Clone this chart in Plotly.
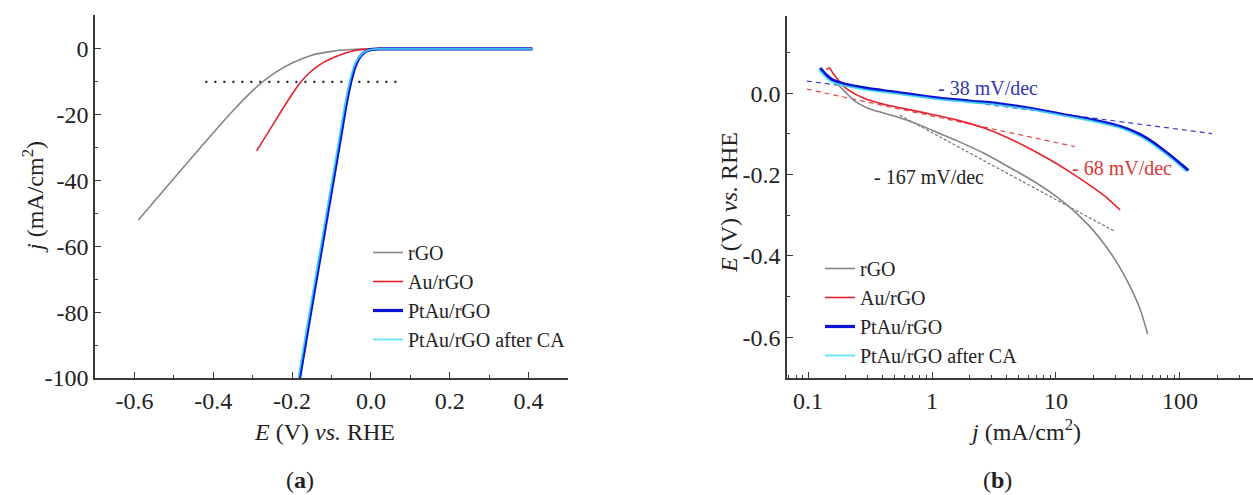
import plotly.graph_objects as go

# ---------------- Panel (a): polarization curves ----------------
rgo_E = [-0.59, -0.55, -0.50, -0.45, -0.40, -0.35, -0.30, -0.27, -0.24, -0.20, -0.15, -0.10, -0.05, 0.0, 0.1, 0.2, 0.3, 0.41]
rgo_j = [-52, -46.4, -39.4, -32.4, -25.5, -18.8, -12.7, -9.6, -7.0, -4.3, -1.9, -0.75, -0.2, 0, 0, 0, 0, 0]

au_E = [-0.29, -0.26, -0.23, -0.20, -0.18, -0.16, -0.14, -0.12, -0.10, -0.08, -0.06, -0.04, -0.02, 0.0, 0.1, 0.2, 0.3, 0.41]
au_j = [-31, -25.2, -19.4, -13.8, -10.4, -7.7, -5.7, -4.1, -2.9, -1.9, -1.1, -0.5, -0.15, 0, 0, 0, 0, 0]

pt_E = [-0.181, -0.16, -0.14, -0.12, -0.10, -0.08, -0.06, -0.05, -0.04, -0.03, -0.02, -0.01, 0.0, 0.02, 0.1, 0.2, 0.3, 0.41]
pt_j = [-100, -85, -71, -57, -43, -29, -15, -9.5, -5.3, -2.8, -1.4, -0.6, -0.2, 0, 0, 0, 0, 0]

ca_E = [-0.184, -0.163, -0.143, -0.123, -0.103, -0.083, -0.063, -0.053, -0.043, -0.032, -0.021, -0.011, 0.0, 0.02, 0.1, 0.2, 0.3, 0.41]
ca_j = [-100, -85, -71, -57, -43, -29, -15, -9.5, -5.3, -2.8, -1.4, -0.6, -0.2, 0, 0, 0, 0, 0]

ref_E = [-0.42, 0.075]
ref_j = [-10, -10]

# ---------------- Panel (b): Tafel plots ----------------
rgo_tj = [0.17, 0.20, 0.24, 0.30, 0.40, 0.55, 0.75, 1.0, 1.6, 2.6, 4.0, 6.5, 9.0, 12.0, 15.85, 20, 25.1,
          31.6, 39.8, 47.9, 55]
rgo_tE = [0.025, 0.003, -0.020, -0.036, -0.048, -0.060, -0.075, -0.091, -0.117, -0.147, -0.178, -0.215,
          -0.243, -0.272, -0.305, -0.337, -0.375, -0.420, -0.476, -0.532, -0.592]

au_tj = [0.140, 0.148, 0.16, 0.18, 0.20, 0.24, 0.30, 0.45, 0.70, 1.0, 1.6, 2.6, 4.0, 6.5, 10, 13.7, 20, 25.8, 33]
au_tE = [0.058, 0.062, 0.048, 0.028, 0.013, -0.002, -0.015, -0.030, -0.042, -0.052, -0.066, -0.085,
         -0.108, -0.140, -0.172, -0.198, -0.232, -0.257, -0.287]

pt_tj = [0.125, 0.14, 0.159, 0.20, 0.30, 0.5, 1.0, 2.0, 3.5, 6.5, 12.3, 20, 34, 48, 63, 85, 117]
pt_tE = [0.062, 0.045, 0.032, 0.022, 0.012, 0.003, -0.010, -0.019, -0.026, -0.038, -0.054, -0.066,
         -0.083, -0.102, -0.124, -0.155, -0.190]

ca_tj = [0.122, 0.137, 0.155, 0.20, 0.30, 0.5, 1.0, 2.0, 3.5, 6.5, 12.3, 20, 34, 48, 63, 85, 112]
ca_tE = [0.058, 0.041, 0.028, 0.018, 0.008, -0.001, -0.013, -0.022, -0.029, -0.041, -0.057, -0.069,
         -0.087, -0.107, -0.130, -0.160, -0.192]

fit_pt_j = [0.098, 182]
fit_pt_E = [0.030, -0.099]
fit_au_j = [0.098, 14.2]
fit_au_E = [0.010, -0.131]
fit_rgo_j = [0.55, 30]
fit_rgo_E = [-0.054, -0.340]

names = ["rGO", "Au/rGO", "PtAu/rGO", "PtAu/rGO after CA"]

GRAY = "#858585"
RED = "#e8222c"
BLUE = "#0a14d4"
CYAN = "#46e4f2"
FONT = "Liberation Serif"
AXC = "#3a3a3a"

fig = go.Figure()

# panel a
fig.add_trace(go.Scatter(x=ref_E, y=ref_j, mode="lines", line=dict(color="#222", width=2.2, dash="2px,7px"),
                         showlegend=False, xaxis="x", yaxis="y"))
fig.add_trace(go.Scatter(x=rgo_E, y=rgo_j, mode="lines", name=names[0], line=dict(color=GRAY, width=1.6, shape="spline", smoothing=0.8),
                         xaxis="x", yaxis="y", legend="legend"))
fig.add_trace(go.Scatter(x=au_E, y=au_j, mode="lines", name=names[1], line=dict(color=RED, width=1.6, shape="spline", smoothing=0.8),
                         xaxis="x", yaxis="y", legend="legend"))
fig.add_trace(go.Scatter(x=pt_E, y=pt_j, mode="lines", name=names[2], line=dict(color=BLUE, width=3.2, shape="spline", smoothing=0.8),
                         xaxis="x", yaxis="y", legend="legend"))
fig.add_trace(go.Scatter(x=ca_E, y=ca_j, mode="lines", name=names[3], line=dict(color=CYAN, width=1.8, shape="spline", smoothing=0.8),
                         xaxis="x", yaxis="y", legend="legend", opacity=0.85))

# panel b
fig.add_trace(go.Scatter(x=fit_pt_j, y=fit_pt_E, mode="lines", line=dict(color="#3a3ad0", width=1.2, dash="5px,4px"),
                         showlegend=False, xaxis="x2", yaxis="y2"))
fig.add_trace(go.Scatter(x=fit_au_j, y=fit_au_E, mode="lines", line=dict(color="#e04848", width=1.2, dash="5px,4px"),
                         showlegend=False, xaxis="x2", yaxis="y2"))
fig.add_trace(go.Scatter(x=fit_rgo_j, y=fit_rgo_E, mode="lines", line=dict(color="#6a6a6a", width=1.1, dash="3px,2px"),
                         showlegend=False, xaxis="x2", yaxis="y2"))
fig.add_trace(go.Scatter(x=rgo_tj, y=rgo_tE, mode="lines", name=names[0], line=dict(color=GRAY, width=1.6, shape="spline", smoothing=0.8),
                         xaxis="x2", yaxis="y2", legend="legend2"))
fig.add_trace(go.Scatter(x=au_tj, y=au_tE, mode="lines", name=names[1], line=dict(color=RED, width=1.6, shape="spline", smoothing=0.8),
                         xaxis="x2", yaxis="y2", legend="legend2"))
fig.add_trace(go.Scatter(x=pt_tj, y=pt_tE, mode="lines", name=names[2], line=dict(color=BLUE, width=3.2, shape="spline", smoothing=0.8),
                         xaxis="x2", yaxis="y2", legend="legend2"))
fig.add_trace(go.Scatter(x=ca_tj, y=ca_tE, mode="lines", name=names[3], line=dict(color=CYAN, width=1.8, shape="spline", smoothing=0.8),
                         xaxis="x2", yaxis="y2", legend="legend2", opacity=0.85))

W, H = 1253, 495
def px(x):
    return x / W
def py(y):
    return (H - y) / H

common_axis = dict(showline=True, linecolor=AXC, linewidth=1.6, ticks="inside", ticklen=6, tickwidth=1.3,
                   tickcolor=AXC, showgrid=False, zeroline=False, mirror=False, automargin=False,
                   tickfont=dict(family=FONT, size=24, color="#222"))

fig.update_layout(
    width=W, height=H,
    margin=dict(l=0, r=0, t=0, b=0),
    paper_bgcolor="white", plot_bgcolor="white",
    font=dict(family=FONT, size=20, color="#222"),
    xaxis=dict(domain=[px(95), px(568)], range=[-0.7, 0.5], tickvals=[-0.6, -0.4, -0.2, 0.0, 0.2, 0.4],
               ticktext=["-0.6", "-0.4", "-0.2", "0.0", "0.2", "0.4"],
               minor=dict(ticks="inside", ticklen=3, tickwidth=1.2, tickcolor=AXC, dtick=0.1, tick0=0.1),
               anchor="y", **common_axis),
    yaxis=dict(domain=[py(378), py(15)], range=[-100, 10.3], tickvals=[-100, -80, -60, -40, -20, 0],
               ticktext=["-100", "-80", "-60", "-40", "-20", "0"],
               minor=dict(ticks="inside", ticklen=3, tickwidth=1.2, tickcolor=AXC, dtick=10, tick0=0),
               anchor="x", **common_axis),
    xaxis2=dict(domain=[px(787), 1.0], type="log", range=[-1.17, 2.59], tickvals=[0.1, 1, 10, 100],
                ticktext=["0.1", "1", "10", "100"],
                minor=dict(ticks="inside", ticklen=3, tickwidth=1.2, tickcolor=AXC, tickmode="array",
                           tickvals=[0.07, 0.08, 0.09, 0.2, 0.3, 0.4, 0.5, 0.6, 0.7, 0.8, 0.9,
                                     2, 3, 4, 5, 6, 7, 8, 9, 20, 30, 40, 50, 60, 70, 80, 90, 200, 300]),
                anchor="y2", **common_axis),
    yaxis2=dict(domain=[py(378), py(16)], range=[-0.7, 0.19], tickvals=[-0.6, -0.4, -0.2, 0.0],
                ticktext=["-0.6", "-0.4", "-0.2", "0.0"],
                minor=dict(ticks="inside", ticklen=3, tickwidth=1.2, tickcolor=AXC, dtick=0.1, tick0=0.1),
                anchor="x2", **common_axis),
    legend=dict(x=px(368), y=py(233), xanchor="left", yanchor="top", bgcolor="rgba(0,0,0,0)",
                font=dict(family=FONT, size=20, color="#222"), tracegroupgap=0, itemwidth=30),
    legend2=dict(x=px(820), y=py(249), xanchor="left", yanchor="top", bgcolor="rgba(0,0,0,0)",
                 font=dict(family=FONT, size=20, color="#222"), tracegroupgap=0, itemwidth=30),
    showlegend=True,
)

annots = [
    dict(text="<i>j</i> (mA/cm<sup>2</sup>)", x=px(33), y=py(197), textangle=-90, size=24, color="#222"),
    dict(text="<i>E</i> (V) <i>vs.</i> RHE", x=px(324), y=py(432), textangle=0, size=24, color="#222"),
    dict(text="(<b>a</b>)", x=px(300), y=py(480), textangle=0, size=24, color="#222"),
    dict(text="<i>E</i> (V) <i>vs.</i> RHE", x=px(729), y=py(202), textangle=-90, size=24, color="#222"),
    dict(text="<i>j</i> (mA/cm<sup>2</sup>)", x=px(1025), y=py(430), textangle=0, size=24, color="#222"),
    dict(text="(<b>b</b>)", x=px(997), y=py(480), textangle=0, size=24, color="#222"),
    dict(text="- 38 mV/dec", x=px(988), y=py(88), textangle=0, size=20, color="#3535b5"),
    dict(text="- 68 mV/dec", x=px(1122), y=py(168), textangle=0, size=20, color="#e03636"),
    dict(text="- 167 mV/dec", x=px(929), y=py(177), textangle=0, size=20, color="#222"),
]
for a in annots:
    fig.add_annotation(text=a["text"], x=a["x"], y=a["y"], xref="paper", yref="paper",
                       xanchor="center", yanchor="middle", showarrow=False, textangle=a["textangle"],
                       font=dict(family=FONT, size=a["size"], color=a["color"]))

fig.write_html("out.html")
